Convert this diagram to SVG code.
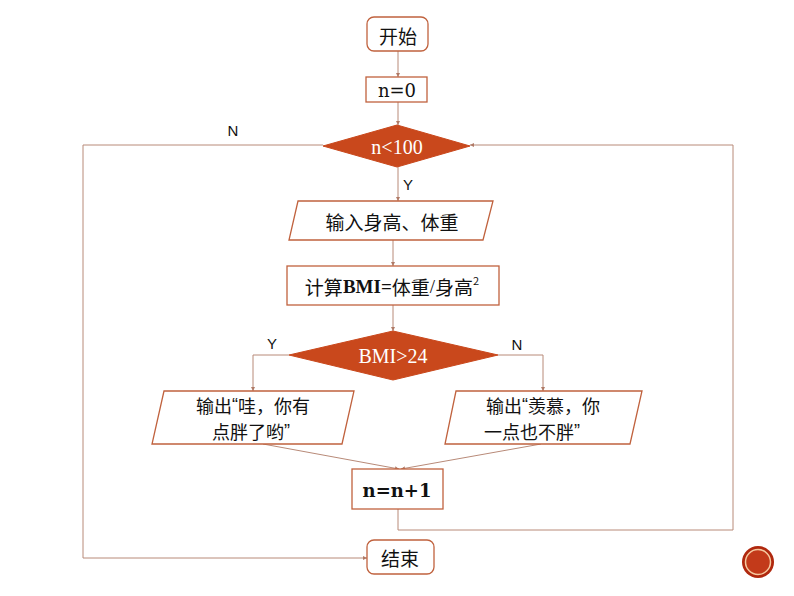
<svg xmlns="http://www.w3.org/2000/svg" width="794" height="596" viewBox="0 0 794 596">
<defs>
<marker id="ah" viewBox="0 0 6 6" refX="6" refY="3" markerWidth="4" markerHeight="4" orient="auto">
<path d="M0,0 L6,3 L0,6 z" fill="#B07A66"/>
</marker>
<style>
.box{fill:#fff;stroke:#C0623E;stroke-width:1.3}
.dia{fill:#C9481C;stroke:#C9481C;stroke-width:1}
.con{fill:none;stroke:#B88A78;stroke-width:1}
.cn{font-family:"Noto Sans CJK SC","Liberation Sans",sans-serif;font-size:19px;fill:#111;text-anchor:middle;dominant-baseline:central}
.cs{font-size:18px}
.q{font-family:"Liberation Sans",Arial,sans-serif}
.sr{font-family:"DejaVu Serif","Liberation Serif",serif;font-size:18px;fill:#111;text-anchor:middle;dominant-baseline:central}
.wt{font-family:"Liberation Serif","DejaVu Serif",serif;font-size:20px;fill:#fff;text-anchor:middle;dominant-baseline:central}
.lb{font-family:"Liberation Sans",Arial,sans-serif;font-size:15px;fill:#111;text-anchor:middle;dominant-baseline:central}
</style>
</defs>
<rect width="794" height="596" fill="#fff"/>
<g id="connectors">
<line class="con" x1="398" y1="51" x2="398" y2="77" marker-end="url(#ah)"/>
<line class="con" x1="398" y1="102" x2="398" y2="125" marker-end="url(#ah)"/>
<line class="con" x1="398" y1="167" x2="398" y2="201" marker-end="url(#ah)"/>
<line class="con" x1="393" y1="240" x2="393" y2="266" marker-end="url(#ah)"/>
<line class="con" x1="393" y1="305" x2="393" y2="331" marker-end="url(#ah)"/>
<polyline class="con" points="289,355 253,355 253,391" marker-end="url(#ah)"/>
<polyline class="con" points="498,355 543,355 543,391" marker-end="url(#ah)"/>
<line class="con" x1="263" y1="444" x2="399" y2="469" marker-end="url(#ah)"/>
<line class="con" x1="541" y1="444" x2="401" y2="469" marker-end="url(#ah)"/>
<polyline class="con" points="398,509 398,530 733,530 733,145 470,145" marker-end="url(#ah)"/>
<polyline class="con" points="323,145 83,145 83,558 367,558" marker-end="url(#ah)"/>
<text class="lb" x="408" y="184">Y</text>
<text class="lb" x="272" y="343">Y</text>
<text class="lb" x="517" y="344">N</text>
<text class="lb" x="233" y="130">N</text>
</g>
<g id="start">
<rect class="box" x="367" y="17" width="61" height="34" rx="7"/>
<text class="cn" x="398" y="35">开始</text>
</g>
<g id="init">
<rect class="box" x="366" y="77" width="61" height="25"/>
<text class="sr" x="397" y="90">n=0</text>
</g>
<g id="cond1">
<polygon class="dia" points="323,146 397,125 470,146 397,167"/>
<text class="wt" x="397" y="147">n&lt;100</text>
</g>
<g id="input">
<polygon class="box" points="298,201 493,201 483,240 289,240"/>
<text class="cn" x="392" y="221">输入身高、体重</text>
</g>
<g id="calc">
<rect class="box" x="287" y="266" width="212" height="39"/>
<text class="cn" x="392" y="286">计算<tspan font-family="Liberation Serif,serif" font-weight="bold">BMI=</tspan>体重<tspan font-family="Liberation Serif,serif">/</tspan>身高<tspan font-size="11" dy="-6">2</tspan></text>
</g>
<g id="cond2">
<polygon class="dia" points="289,355 393,331 498,355 393,380"/>
<text class="wt" x="393" y="356">BMI&gt;24</text>
</g>
<g id="outY">
<polygon class="box" points="164,391 354,391 342,444 152,444"/>
<text class="cn cs" x="253" y="405">输出<tspan class="q">“</tspan>哇，你有</text>
<text class="cn cs" x="251" y="431">点胖了哟<tspan class="q">”</tspan></text>
</g>
<g id="outN">
<polygon class="box" points="456,391 642,391 630,444 445,444"/>
<text class="cn cs" x="543" y="405">输出<tspan class="q">“</tspan>羡慕，你</text>
<text class="cn cs" x="532" y="431">一点也不胖<tspan class="q">”</tspan></text>
</g>
<g id="inc">
<rect class="box" x="352" y="469" width="91" height="40"/>
<text class="sr" x="397" y="490" font-weight="bold" font-size="16">n=n+1</text>
</g>
<g id="end">
<rect class="box" x="367" y="540" width="67" height="34" rx="7"/>
<text class="cn" x="400" y="557">结束</text>
</g>
<g id="badge">
<circle cx="758" cy="562" r="16" fill="#B0280E"/>
<circle cx="758" cy="562" r="12.5" fill="#C33A1A" stroke="#F5C9A0" stroke-width="1.5"/>
</g>
</svg>
